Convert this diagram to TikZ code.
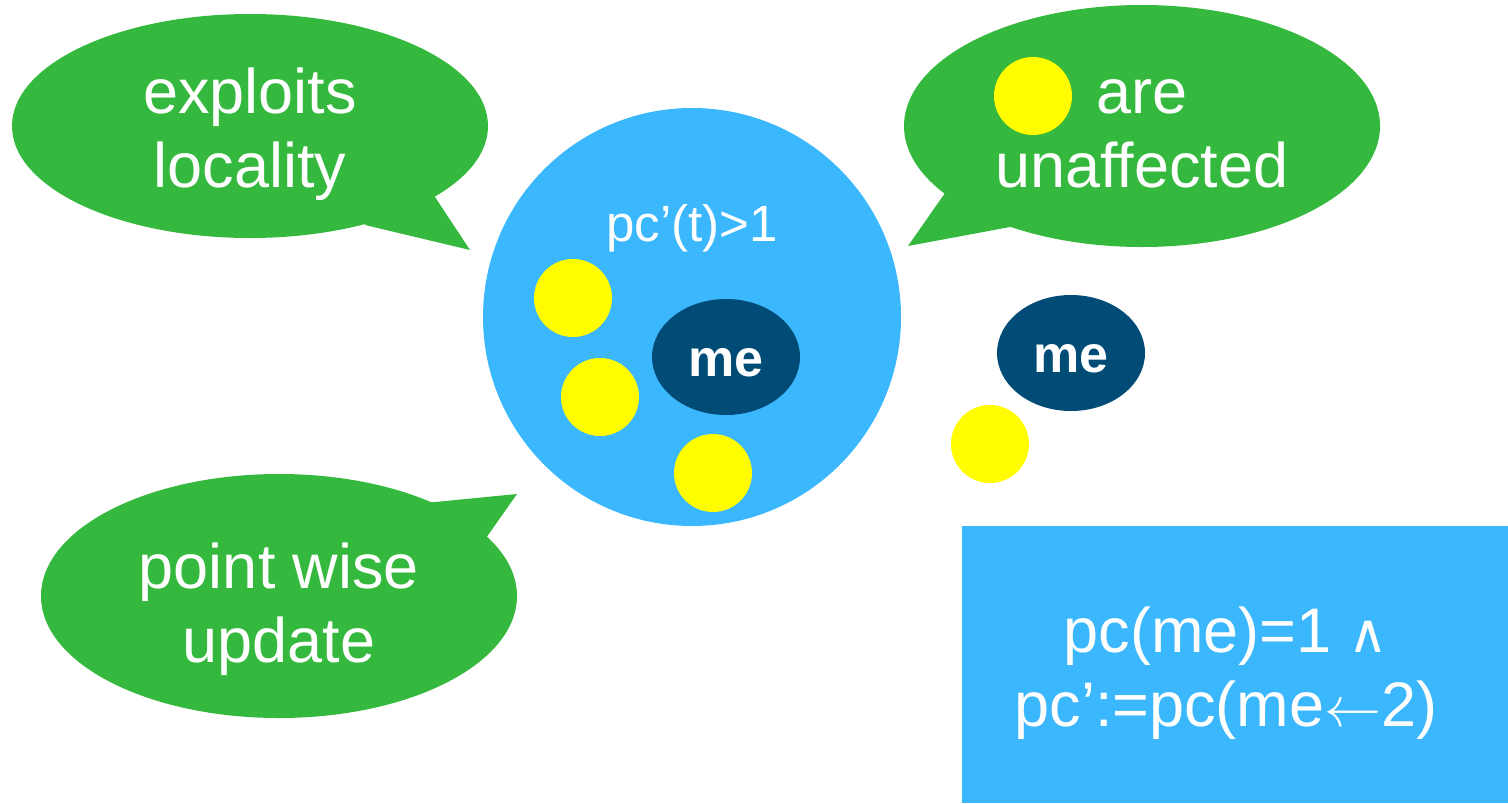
\documentclass[tikz,border=0pt]{standalone}
\usepackage{graphicx}
\usepackage{fontspec}
\setmainfont{Liberation Sans}
\newfontfamily\symbolfont{DejaVu Sans}
\usetikzlibrary{shapes.geometric}

\definecolor{bubblegreen}{RGB}{52,185,62}
\definecolor{skyblue}{RGB}{59,183,253}
\definecolor{navyblue}{RGB}{1,76,119}
\definecolor{dotyellow}{RGB}{255,253,0}

\begin{document}
\begin{tikzpicture}[
    x=0.5pt, y=-0.5pt,
    every node/.style={align=center, text=white, inner sep=0pt},
    bubble/.style={ellipse, fill=bubblegreen, minimum width=238pt, minimum height=112pt},
    bubbletext/.style={font=\fontsize{31.5}{37}\selectfont},
    tail/.style={fill=bubblegreen},
    region/.style={circle, fill=skyblue, minimum size=209pt},
    proc/.style={ellipse, fill=navyblue, minimum width=74pt, minimum height=58pt,
        text height=19.5pt, text depth=0pt, font=\fontsize{26}{30}\selectfont\bfseries},
    thread/.style={circle, fill=dotyellow, minimum size=39pt}
]
    \useasboundingbox (0,0) rectangle (1508,803);

    % Callouts
    \fill[tail] (435,197) -- (470,250) -- (365,225) -- (380,200) -- cycle;
    \node[bubble] (locality) at (250,126) {};
    \node[bubbletext] (localitytext) at ([shift={(0,8)}]locality.center) {exploits\\locality};

    \fill[tail] (945,193) -- (908,246) -- (1010,227) -- (990,195) -- cycle;
    \node[bubble, minimum height=121pt] (unaffected) at (1142,126) {};
    \node[bubbletext] (unaffectedtext) at ([shift={(0,8)}]unaffected.center) {are\\unaffected};
    \node[thread] (legend) at (1033,96) {};

    \fill[tail] (425,503) -- (517,494) -- (486,538) -- (440,530) -- cycle;
    \node[bubble, minimum height=122pt] (pointwise) at (279,596) {};
    \node[bubbletext] (pointwisetext) at ([shift={(0,13)}]pointwise.center) {point wise\\update};

    % Region with threads
    \node[region] (region) at (692,317) {};
    \node[font=\fontsize{25.5}{30}\selectfont] (guard) at (692,228) {pc’(t)>1};
    \node[thread] (t1) at (573,298) {};
    \node[thread] (t2) at (600,397) {};
    \node[thread] (t3) at (713,473) {};
    \node[proc] (me1) at (726,357) {me};

    % Thread outside
    \node[proc] (me2) at (1071,353) {me};
    \node[thread] (t4) at (990,444) {};

    % Transition rule
    \node[rectangle, fill=skyblue, minimum width=273pt, minimum height=138.5pt] (rule) at (1235,664.5) {};
    \node[font=\fontsize{31.5}{37}\selectfont] (formula) at ([shift={(-9,9)}]rule.center)
        {pc(me)=1 {\symbolfont\fontsize{27}{30}\selectfont ∧}\\pc’:=pc(me\resizebox{28.5pt}{!}{$\leftarrow$}2)};
\end{tikzpicture}
\end{document}
